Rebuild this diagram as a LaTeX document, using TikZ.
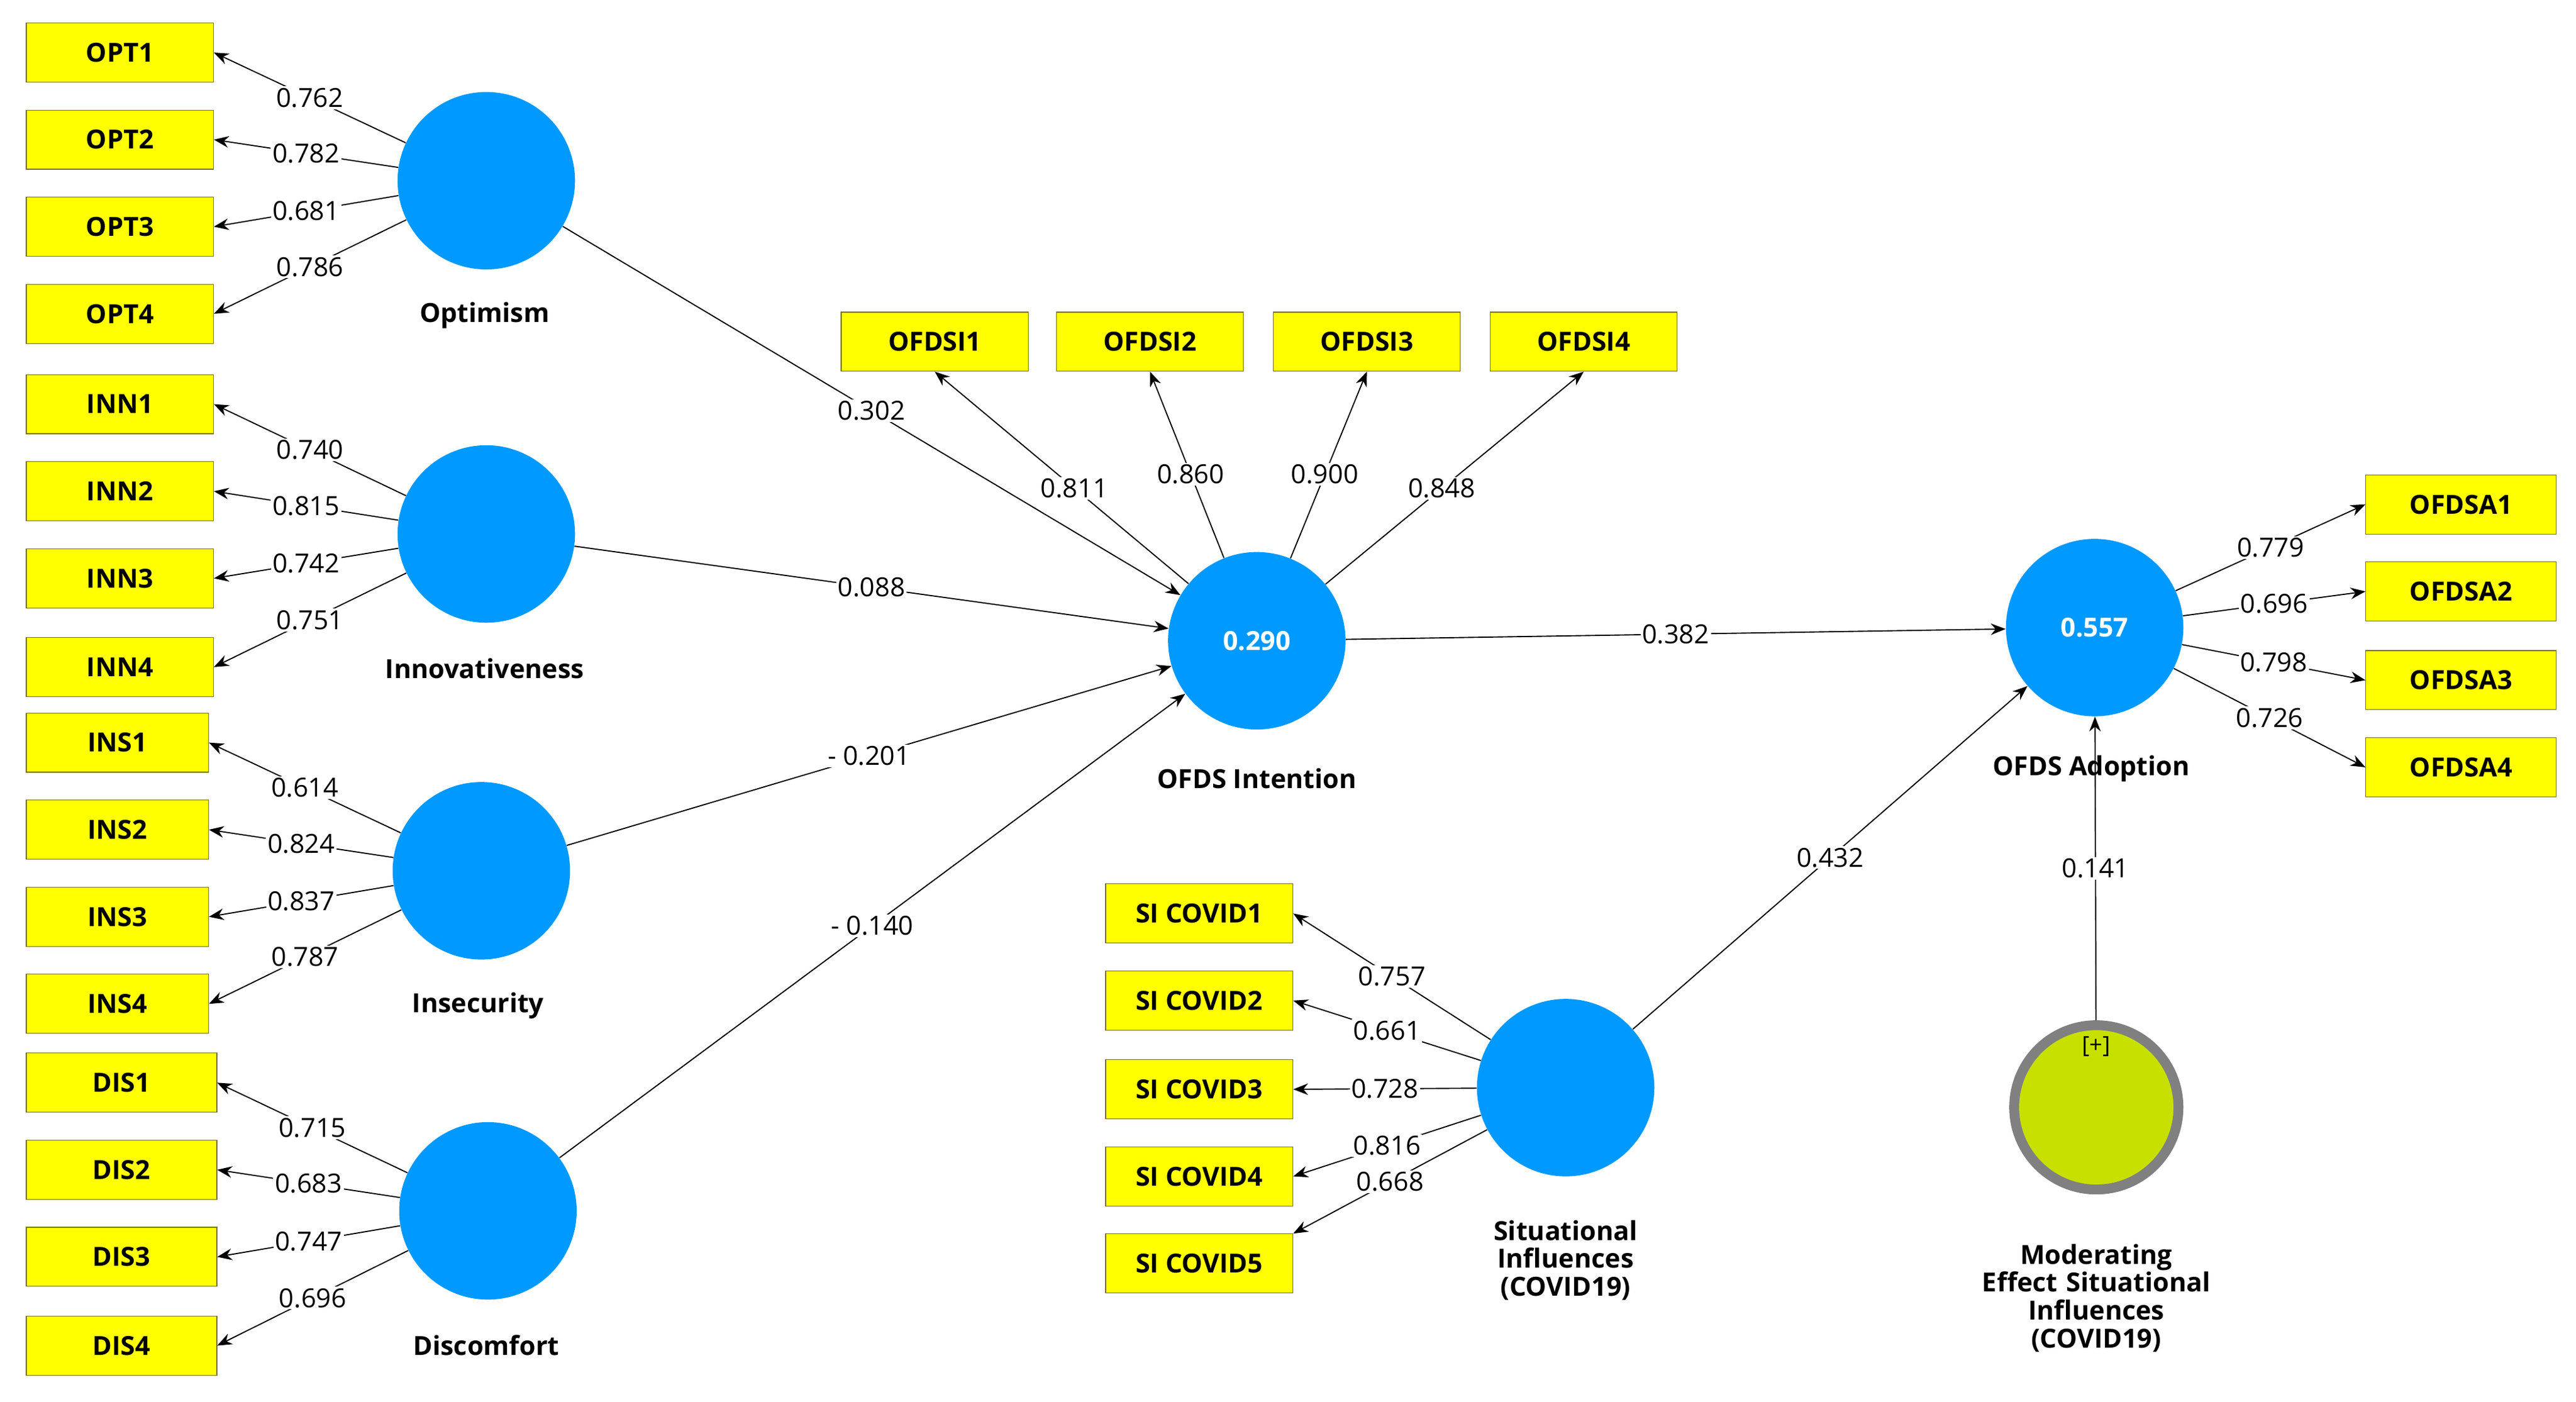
\documentclass[tikz,border=0pt]{standalone}
\usepackage{fontspec}
\setmainfont{Open Sans}
\usetikzlibrary{arrows.meta}
\definecolor{lvblue}{HTML}{0099FF}
\definecolor{boxy}{HTML}{FFFF00}
\definecolor{modg}{HTML}{C8E000}
\begin{document}
\begin{tikzpicture}[x=1pt,y=-1pt,
 box/.style={draw=olive!80!black,fill=boxy,minimum width=114pt,minimum height=36pt,inner sep=0pt,font=\fontsize{16}{18}\selectfont\bfseries},
 lv/.style={circle,fill=lvblue,minimum size=108pt,inner sep=0pt,text=white,font=\fontsize{16}{18}\selectfont\bfseries},
 lvcap/.style={font=\fontsize{16}{19}\selectfont\bfseries,align=center},
 arr/.style={-{Stealth[length=9pt,width=7pt]},line width=0.7pt},
 lab/.style={fill=white,inner sep=1pt,font=\fontsize{16}{18}\selectfont}]
\useasboundingbox (0,0) rectangle (1568,853);
% latent variables
\node[lv] (opt) at (296,110) {};
\node[lv] (inn) at (296,325) {};
\node[lv] (ins) at (293,530) {};
\node[lv] (dis) at (297,737) {};
\node[lv] (int) at (765,390) {0.290};
\node[lv] (ado) at (1275,382) {0.557};
\node[lv] (sit) at (953,662) {};
\node[circle,fill=modg,draw=gray,line width=6pt,minimum size=100pt,inner sep=0pt] (mod) at (1276,674) {};
\node[font=\fontsize{14}{16}\selectfont] (plus) at (1276,637) {[+]};
% captions
\node[lvcap] (copt) at (295,192) {Optimism};
\node[lvcap] (cinn) at (295,407) {Innovativeness};
\node[lvcap] (cins) at (291,612) {Insecurity};
\node[lvcap] (cdis) at (296,819) {Discomfort};
\node[lvcap] (cint) at (765,474) {OFDS Intention};
\node[lvcap] (cado) at (1273,468) {OFDS Adoption};
\node[lvcap,text width=140pt] (csit) at (953,767) {Situational\\[-2pt]Influences\\[-2pt](COVID19)};
\node[lvcap,text width=170pt] (cmod) at (1276,790) {Moderating\\[-2pt]Effect Situational\\[-2pt]Influences\\[-2pt](COVID19)};
% indicator boxes
\foreach \n/\y/\v in {1/32/0.762,2/85/0.782,3/138/0.681,4/191/0.786}{
 \node[box] (OPT\n) at (73,\y) {OPT\n};
 \draw[arr] (opt) -- (OPT\n.east) node[lab,pos=0.5]{\v};}
\foreach \n/\y/\v in {1/246/0.740,2/299/0.815,3/352/0.742,4/406/0.751}{
 \node[box] (INN\n) at (73,\y) {INN\n};
 \draw[arr] (inn) -- (INN\n.east) node[lab,pos=0.5]{\v};}
\foreach \n/\y/\v in {1/452/0.614,2/505/0.824,3/558/0.837,4/611/0.787}{
 \node[box,minimum width=111pt] (INS\n) at (71.5,\y) {INS\n};
 \draw[arr] (ins) -- (INS\n.east) node[lab,pos=0.5]{\v};}
\foreach \n/\y/\v in {1/659/0.715,2/712/0.683,3/765/0.747,4/819/0.696}{
 \node[box,minimum width=116pt] (DIS\n) at (74,\y) {DIS\n};
 \draw[arr] (dis) -- (DIS\n.east) node[lab,pos=0.5]{\v};}
\foreach \n/\x/\v in {1/569/0.811,2/700/0.860,3/832/0.900,4/964/0.848}{
 \node[box] (OFDSI\n) at (\x,208) {OFDSI\n};
 \draw[arr] (int) -- (OFDSI\n.south) node[lab,pos=0.45]{\v};}
\foreach \n/\y/\v in {1/307/0.779,2/360/0.696,3/414/0.798,4/467/0.726}{
 \node[box,minimum width=116pt] (OFDSA\n) at (1498,\y) {OFDSA\n};
 \draw[arr] (ado) -- (OFDSA\n.west) node[lab,pos=0.5]{\v};}
\foreach \n/\y in {1/556,2/609,3/663,4/716,5/769}{
 \node[box] (SI\n) at (730,\y) {SI COVID\n};}
\foreach \n/\v in {1/0.757,2/0.661,3/0.728,4/0.816}{
 \draw[arr] (sit) -- (SI\n.east) node[lab,pos=0.5]{\v};}
\draw[arr] (sit) -- (SI5.north east) node[lab,pos=0.5]{0.668};
% structural paths
\draw[arr] (opt) -- (int) node[lab,pos=0.5]{0.302};
\draw[arr] (inn) -- (int) node[lab,pos=0.5]{0.088};
\draw[arr] (ins) -- (int) node[lab,pos=0.5]{- 0.201};
\draw[arr] (dis) -- (int) node[lab,pos=0.5]{- 0.140};
\draw[arr] (int) -- (ado) node[lab,pos=0.5]{0.382};
\draw[arr] (sit) -- (ado) node[lab,pos=0.5]{0.432};
\draw[arr] (mod) -- (ado) node[lab,pos=0.5]{0.141};
\end{tikzpicture}
\end{document}
